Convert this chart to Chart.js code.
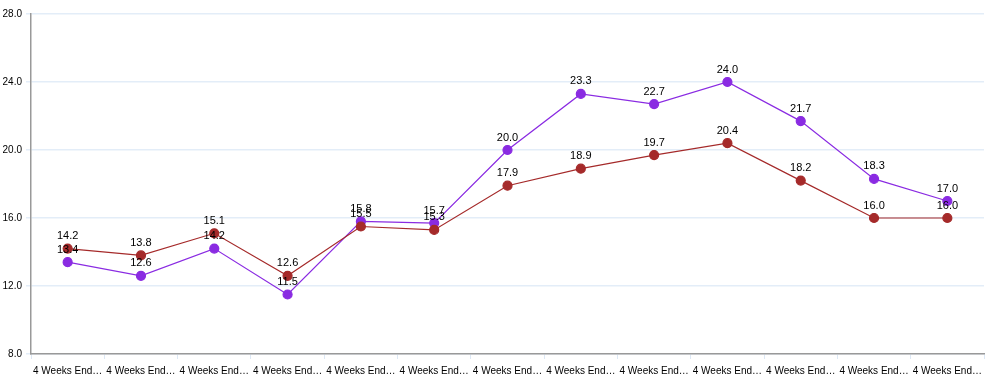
<!DOCTYPE html>
<html>
<head>
<meta charset="utf-8">
<script src="https://cdn.jsdelivr.net/npm/chart.js@4"></script>
<style>
  body { margin: 0; background: #fff; }
  #wrap { width: 992px; height: 386px; }
</style>
</head>
<body>
<div id="wrap"><canvas id="myChart"></canvas></div>
<script>
var labels = ['4 Weeks End…','4 Weeks End…','4 Weeks End…','4 Weeks End…','4 Weeks End…','4 Weeks End…','4 Weeks End…','4 Weeks End…','4 Weeks End…','4 Weeks End…','4 Weeks End…','4 Weeks End…','4 Weeks End…']
var purpleVals = [13.4, 12.6, 14.2, 11.5, 15.8, 15.7, 20.0, 23.3, 22.7, 24.0, 21.7, 18.3, 17.0]
var redVals = [14.2, 13.8, 15.1, 12.6, 15.5, 15.3, 17.9, 18.9, 19.7, 20.4, 18.2, 16.0, 16.0]
var yTicks = [8, 12, 16, 20, 24, 28]

// draws the value over every point
var valueLabels = {
  id: 'valueLabels',
  afterDatasetsDraw: function(chart) {
    var ctx = chart.ctx
    ctx.save()
    ctx.font = '11px "Liberation Sans", Arial, sans-serif'
    ctx.fillStyle = '#000'
    ctx.textAlign = 'center'
    ctx.textBaseline = 'bottom'
    chart.data.datasets.forEach(function(ds, i) {
      var meta = chart.getDatasetMeta(i)
      meta.data.forEach(function(pt, j) {
        ctx.fillText(ds.data[j].toFixed(1), pt.x, pt.y - 7)
      })
    })
    ctx.restore()
  }
}

var clusterChart = new Chart(document.getElementById('myChart'), {
  type: 'line',
  data: {
    labels: labels,
    datasets: [
      {
        label: 'Series B',
        data: redVals,
        borderColor: '#A52A2A',
        backgroundColor: '#A52A2A',
        borderWidth: 1.2,
        pointRadius: 4.5,
        pointHoverRadius: 4.5,
        tension: 0
      },
      {
        label: 'Series A',
        data: purpleVals,
        borderColor: '#8A2BE2',
        backgroundColor: '#8A2BE2',
        borderWidth: 1.2,
        pointRadius: 4.5,
        pointHoverRadius: 4.5,
        tension: 0
      }
    ]
  },
  options: {
    responsive: true,
    maintainAspectRatio: false,
    animation: false,
    layout: { padding: { top: 14, right: 8, left: 0, bottom: 0 } },
    plugins: {
      legend: { display: false },
      tooltip: { enabled: false }
    },
    scales: {
      x: {
        offset: true,
        grid: {
          display: true,
          offset: true,
          drawOnChartArea: false,
          color: '#dde8f5',
          tickLength: 5
        },
        border: { color: '#999', width: 1.5 },
        ticks: {
          color: '#000',
          font: { size: 10, family: '"Liberation Sans", Arial, sans-serif' },
          maxRotation: 0,
          autoSkip: false,
          padding: 6
        },
        afterFit: function(s) { s.height = 32 }
      },
      y: {
        min: 8,
        max: 28,
        afterBuildTicks: function(s) { s.ticks = yTicks.map(function(v) { return { value: v } }) },
        grid: { color: '#e3edf8', lineWidth: 1.5, drawTicks: true, tickLength: 5 },
        border: { color: '#999', width: 1.5 },
        ticks: {
          color: '#000',
          font: { size: 10, family: '"Liberation Sans", Arial, sans-serif' },
          padding: 4,
          callback: function(v) { return Number(v).toFixed(1) }
        },
        afterFit: function(s) { s.width = 31 }
      }
    }
  },
  plugins: [valueLabels]
})
</script>
</body>
</html>
